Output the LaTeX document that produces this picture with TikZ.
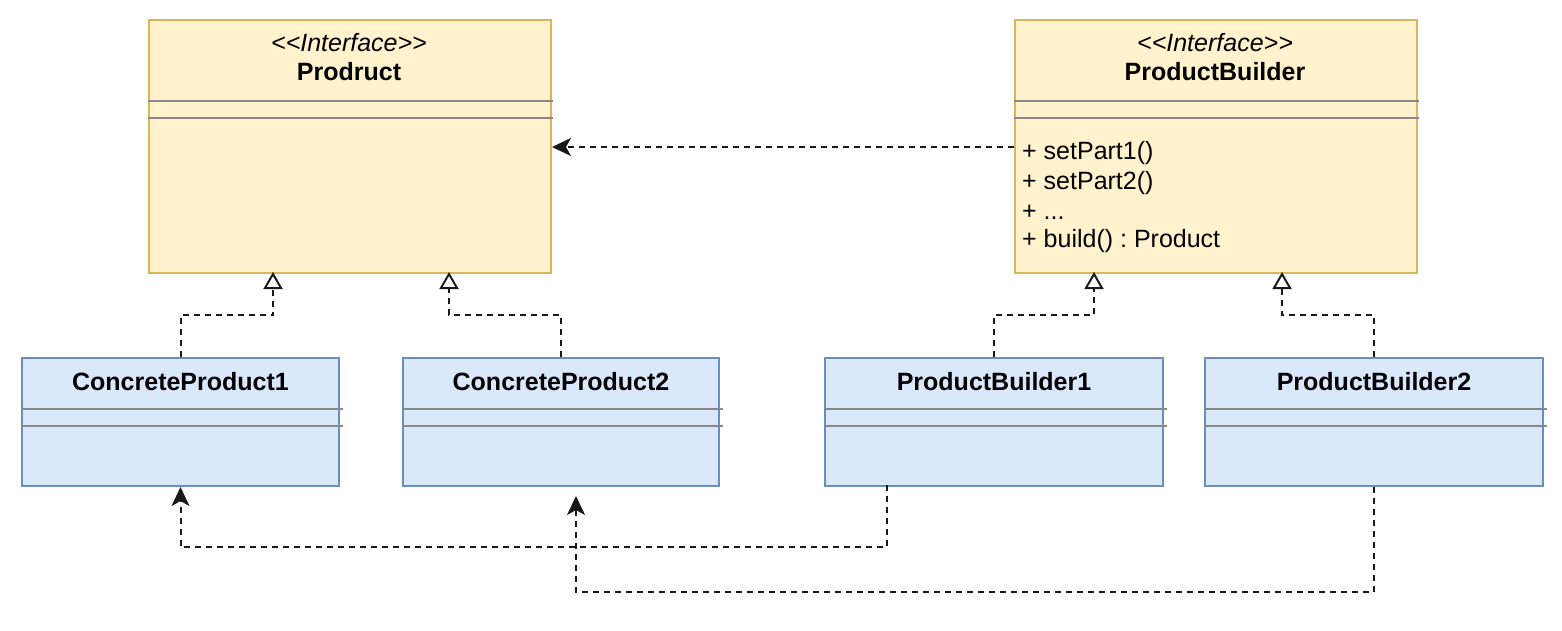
\documentclass[tikz,border=0pt]{standalone}
\usepackage{fontspec}
\setmainfont{Liberation Sans}
\frenchspacing
\usetikzlibrary{arrows.meta,calc}

\definecolor{ifill}{HTML}{FFF2CC}
\definecolor{istroke}{HTML}{D6B656}
\definecolor{cfill}{HTML}{DAE8FC}
\definecolor{cstroke}{HTML}{6C8EBF}
\definecolor{divider}{HTML}{888888}

\tikzset{
  ifacebox/.style={draw=istroke, fill=ifill, line width=2pt, anchor=north west, inner sep=0pt},
  classbox/.style={draw=cstroke, fill=cfill, line width=2pt, anchor=north west, inner sep=0pt},
  sepline/.style={draw=divider, line width=2pt},
  label/.style={font=\fontsize{25}{30}\selectfont, inner sep=0pt},
  stereo/.style={label, font=\fontsize{25}{30}\selectfont\itshape},
  title/.style={label, font=\fontsize{25}{30}\selectfont\bfseries},
  member/.style={label, anchor=west},
  realize/.style={draw=black!90, line width=2pt, dash pattern=on 6pt off 5pt,
    -{Triangle[open, length=17pt, width=19pt, line width=2pt, fill=white]}},
  depend/.style={draw=black!90, line width=2pt, dash pattern=on 6pt off 5pt,
    -{Stealth[length=19pt, width=18pt, inset=5pt]}}
}

\begin{document}
\begin{tikzpicture}[x=1pt, y=-1pt]
  \useasboundingbox (0,0) rectangle (1562,630);

  % interface: Prodruct
  \node[ifacebox, minimum width=402pt, minimum height=253pt] (prod) at (148,19) {};
  \node[stereo] (prodst) at (349,43) {{<}{<}Interface{>}{>}};
  \node[title] (prodti) at (349,72) {Prodruct};
  \draw[sepline] (148,101) -- (553,101);
  \draw[sepline] (148,118) -- (553,118);

  % interface: ProductBuilder
  \node[ifacebox, minimum width=402pt, minimum height=253pt] (pb) at (1014,19) {};
  \node[stereo] (pbst) at (1215,43) {{<}{<}Interface{>}{>}};
  \node[title] (pbti) at (1215,72) {ProductBuilder};
  \draw[sepline] (1014,101) -- (1419,101);
  \draw[sepline] (1014,118) -- (1419,118);
  \node[member] (m1) at (1022,153) {+ setPart1()};
  \node[member] (m2) at (1022,183) {+ setPart2()};
  \node[member] (m3) at (1022,212) {+ ...};
  \node[member] (m4) at (1022,241) {+ build() : Product};

  % concrete classes
  \foreach \nm/\x/\w/\txt in {cp1/21/317/ConcreteProduct1, cp2/402/316/ConcreteProduct2,
                              pb1/824/338/ProductBuilder1, pb2/1204/338/ProductBuilder2}{
    \node[classbox, minimum width=\w pt, minimum height=128pt] (\nm) at (\x,357) {};
    \node[title] (\nm-t) at ($(\nm.north)+(0,25)$) {\txt};
    \draw[sepline] (\x,409) -- ($(\nm.north east)+(3,52)$);
    \draw[sepline] (\x,426) -- ($(\nm.north east)+(3,69)$);
  }

  % realization targets on the interfaces
  \coordinate (r1) at (273,272);
  \coordinate (r2) at (449,272);
  \coordinate (r3) at (1094,272);
  \coordinate (r4) at (1282,272);

  \draw[realize] (cp1.north) -- ++(0,-42) -| (r1);
  \draw[realize] (cp2.north) -- ++(0,-42) -| (r2);
  \draw[realize] (pb1.north) -- ++(0,-42) -| (r3);
  \draw[realize] (pb2.north) -- ++(0,-42) -| (r4);

  % dependencies
  \draw[depend] (pb.west |- 0,147) -- (prod.east |- 0,147);

  \coordinate (b1) at (887,485);
  \coordinate (c2) at (576,496);
  \draw[depend] (b1) -- ++(0,62) -| (cp1.south);
  \draw[depend] (pb2.south) -- ++(0,105) -| (c2);
\end{tikzpicture}
\end{document}
